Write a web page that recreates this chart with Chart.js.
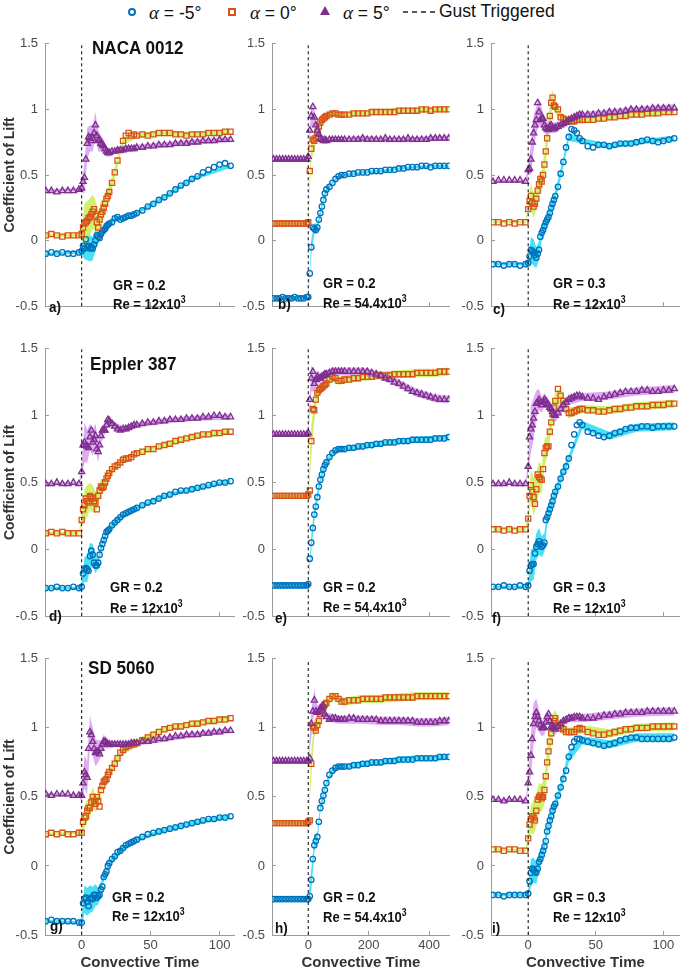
<!DOCTYPE html>
<html>
<head>
<meta charset="utf-8">
<script src="https://cdn.jsdelivr.net/npm/chart.js@4.4.1/dist/chart.umd.min.js"></script>
<style>
    body { margin: 0; width: 685px; height: 975px; position: relative; background: #fff; overflow: hidden;
           font-family: "Liberation Sans", Arial, sans-serif; }
    .panel { position: absolute; }
    .note { position: absolute; font-weight: bold; color: #111; white-space: nowrap; line-height: 1;
            transform-origin: left center; }
    .airfoil { font-size: 18px; transform: scaleX(0.95); }
    .cond { font-size: 15px; transform: scaleX(0.87); }
    .tag { font-size: 15px; transform: scaleX(0.9); }
    .cond sup { font-size: 10px; vertical-align: 6px; line-height: 0; }
    .legend-text { position: absolute; top: 3px; font-size: 17.5px; color: #111; white-space: nowrap; line-height: 1; }
    .legend-text i { font-family: "Liberation Serif", "Times New Roman", serif; font-size: 19px; }
    .sym { position: absolute; box-sizing: border-box; }
</style>
</head>
<body>

<!-- shared legend -->
<span class="sym" style="left:128px;top:8px;width:8px;height:8px;border:2px solid #0072BD;border-radius:50%;"></span>
<span class="legend-text" style="left:149px;"><i>α</i> = -5°</span>
<span class="sym" style="left:228px;top:8px;width:8px;height:8px;border:2.5px solid #D95319;background:#fff;"></span>
<span class="legend-text" style="left:250px;"><i>α</i> = 0°</span>
<span class="sym" style="left:320px;top:6px;width:0;height:0;border-left:5px solid transparent;border-right:5px solid transparent;border-bottom:9px solid #7E2F8E;"></span>
<span class="legend-text" style="left:343px;"><i>α</i> = 5°</span>
<svg class="sym" style="left:403px;top:10px;" width="34" height="4"><line x1="0" y1="2" x2="34" y2="2" stroke="#222" stroke-width="1.3" stroke-dasharray="5,4"/></svg>
<span class="legend-text" style="left:439px;">Gust Triggered</span>

<div id="charts"></div>

<!-- panel annotations -->
<div class="note airfoil" style="left:92px;top:39px;">NACA 0012</div>
<div class="note airfoil" style="left:90px;top:355px;">Eppler 387</div>
<div class="note airfoil" style="left:88px;top:659px;">SD 5060</div>

<div class="note cond" style="left:113px;top:277px;">GR = 0.2</div>
<div class="note cond" style="left:113px;top:296px;">Re = 12x10<sup>3</sup></div>
<div class="note cond" style="left:323px;top:275px;">GR = 0.2</div>
<div class="note cond" style="left:323px;top:295px;">Re = 54.4x10<sup>3</sup></div>
<div class="note cond" style="left:553px;top:275px;">GR = 0.3</div>
<div class="note cond" style="left:553px;top:296px;">Re = 12x10<sup>3</sup></div>

<div class="note cond" style="left:110px;top:579px;">GR = 0.2</div>
<div class="note cond" style="left:110px;top:600px;">Re = 12x10<sup>3</sup></div>
<div class="note cond" style="left:323px;top:579px;">GR = 0.2</div>
<div class="note cond" style="left:323px;top:599px;">Re = 54.4x10<sup>3</sup></div>
<div class="note cond" style="left:553px;top:579px;">GR = 0.3</div>
<div class="note cond" style="left:553px;top:600px;">Re = 12x10<sup>3</sup></div>

<div class="note cond" style="left:112px;top:889px;">GR = 0.2</div>
<div class="note cond" style="left:112px;top:908px;">Re = 12x10<sup>3</sup></div>
<div class="note cond" style="left:323px;top:889px;">GR = 0.2</div>
<div class="note cond" style="left:323px;top:909px;">Re = 54.4x10<sup>3</sup></div>
<div class="note cond" style="left:553px;top:889px;">GR = 0.3</div>
<div class="note cond" style="left:553px;top:909px;">Re = 12x10<sup>3</sup></div>

<div class="note tag" style="left:49px;top:299px;">a)</div>
<div class="note tag" style="left:278px;top:296px;">b)</div>
<div class="note tag" style="left:493px;top:301px;">c)</div>
<div class="note tag" style="left:49px;top:608px;">d)</div>
<div class="note tag" style="left:275px;top:610px;">e)</div>
<div class="note tag" style="left:492px;top:610px;">f)</div>
<div class="note tag" style="left:50px;top:918px;">g)</div>
<div class="note tag" style="left:275px;top:920px;">h)</div>
<div class="note tag" style="left:492px;top:920px;">i)</div>

<script>
// ---- sample times (convective time) ----
const timeShort = [-26,-22,-18,-14,-10,-6,-2, 0,
    1,2,3,4,5,6,7,8,9,10, 11,12,13,14,15,16,17,18,19,20,
    22,24,26,28,30,32,34,36,38,40,
    44,48,52,56,60,64,68,72,76,80,84,88,92,96,100,104,108];
const timeLong = [-115,-105,-95,-85,-75,-65,-55,-45,-35,-25,-15,-5, 0,
    5,10,15,20,25,30,35,40,45,50,55,60,
    70,80,90,100,110,120,
    135,150,165,180,195,210,225,240,255,270,285,300,315,330,345,360,375,390,405,420,435,450,465];
// times where the error band is sampled
const bandTimeShort = [-26,-2,0,2,4,6,8,10,12,14,16,18,20,24,30,40,60,80,108];
const bandTimeLong = [-115,-5,0,10,20,30,40,50,60,80,100,120,180,240,300,360,420,465];

const gustTime = 0;
const yTicks = [-0.5, 0, 0.5, 1, 1.5];
const yTickLabels = ['-0.5', '0', '0.5', '1', '1.5'];
const xTicksShort = [0, 50, 100];
const xTicksLong = [0, 200, 400];

// ---- a) NACA 0012, GR 0.2, Re 12e3 ----
const aNeg5 = [-0.10,-0.09,-0.10,-0.09,-0.10,-0.10,-0.09, -0.08,
    -0.04,-0.06,0.01,-0.05,-0.04,-0.06,-0.05,-0.06,-0.03,0.00,
    0.04,0.03,0.02,0.05,0.07,0.08,0.09,0.11,0.12,0.13,
    0.14,0.17,0.18,0.16,0.17,0.18,0.19,0.19,0.20,0.21,
    0.23,0.26,0.28,0.31,0.33,0.36,0.39,0.42,0.44,0.47,0.49,0.52,0.54,0.56,0.58,0.59,0.57];
const aZero = [0.04,0.05,0.04,0.03,0.04,0.04,0.04, 0.05,
    0.10,0.13,0.14,0.15,0.17,0.18,0.20,0.22,0.24,0.19,
    0.14,0.10,0.16,0.20,0.22,0.25,0.28,0.32,0.34,0.37,
    0.44,0.52,0.61,0.69,0.76,0.80,0.82,0.80,0.81,0.80,
    0.81,0.80,0.81,0.82,0.82,0.82,0.81,0.81,0.80,0.81,0.81,0.81,0.82,0.82,0.82,0.83,0.83];
const aPos5 = [0.38,0.38,0.37,0.38,0.38,0.38,0.39, 0.40,
    0.45,0.48,0.62,0.74,0.79,0.78,0.76,0.78,0.82,0.88,
    0.80,0.76,0.77,0.74,0.73,0.72,0.70,0.68,0.67,0.67,
    0.68,0.68,0.69,0.69,0.69,0.70,0.70,0.70,0.70,0.71,
    0.71,0.72,0.72,0.73,0.73,0.73,0.74,0.74,0.74,0.75,0.75,0.76,0.76,0.76,0.77,0.77,0.77];
const aNeg5Err = [0.01,0.01,0.02,0.08,0.10,0.10,0.09,0.08,0.05,0.04,0.03,0.02,0.02,0.02,0.02,0.015,0.015,0.015,0.015];
const aZeroErr = [0.01,0.01,0.03,0.15,0.15,0.14,0.13,0.12,0.12,0.10,0.08,0.06,0.05,0.04,0.03,0.02,0.02,0.02,0.02];
const aPos5Err = [0.01,0.01,0.03,0.12,0.12,0.10,0.10,0.10,0.08,0.06,0.05,0.04,0.03,0.02,0.02,0.02,0.02,0.02,0.02];

// ---- b) NACA 0012, GR 0.2, Re 54.4e3 ----
const bNeg5 = [-0.44,-0.44,-0.44,-0.43,-0.44,-0.44,-0.44,-0.43,-0.44,-0.44,-0.44,-0.43, -0.43,
    -0.25,-0.05,0.10,0.09,0.08,0.10,0.16,0.21,0.26,0.31,0.36,0.39,
    0.41,0.44,0.47,0.49,0.50,0.50,
    0.51,0.51,0.52,0.52,0.52,0.53,0.53,0.53,0.54,0.54,0.54,0.55,0.55,0.56,0.56,0.56,0.57,0.57,0.56,0.57,0.57,0.57,0.57];
const bZero = [0.13,0.13,0.13,0.13,0.13,0.13,0.13,0.13,0.13,0.13,0.13,0.13, 0.14,
    0.53,0.70,0.77,0.76,0.78,0.83,0.87,0.90,0.92,0.93,0.94,0.95,
    0.96,0.97,0.97,0.96,0.96,0.96,
    0.96,0.97,0.97,0.97,0.97,0.98,0.98,0.98,0.98,0.98,0.98,0.99,0.99,0.99,0.99,0.99,1.00,1.00,0.99,1.00,1.00,1.00,1.00];
const bPos5 = [0.62,0.62,0.62,0.62,0.62,0.62,0.62,0.62,0.62,0.62,0.62,0.62, 0.64,
    0.84,0.95,1.02,0.94,0.88,0.84,0.81,0.78,0.77,0.76,0.77,0.76,
    0.77,0.77,0.77,0.77,0.77,0.77,
    0.77,0.77,0.77,0.78,0.77,0.77,0.77,0.77,0.78,0.77,0.77,0.77,0.77,0.78,0.77,0.77,0.77,0.77,0.78,0.78,0.78,0.78,0.78];
const bNeg5Err = [0.01,0.01,0.01,0.06,0.04,0.03,0.03,0.02,0.02,0.01,0.01,0.01,0.01,0.01,0.01,0.01,0.01,0.01];
const bZeroErr = [0.01,0.01,0.02,0.10,0.06,0.04,0.03,0.03,0.02,0.02,0.02,0.02,0.02,0.02,0.02,0.02,0.02,0.02];
const bPos5Err = [0.01,0.01,0.02,0.08,0.06,0.04,0.03,0.02,0.02,0.02,0.02,0.02,0.02,0.02,0.02,0.02,0.02,0.02];

// ---- c) NACA 0012, GR 0.3, Re 12e3 ----
const cNeg5 = [-0.18,-0.18,-0.19,-0.18,-0.18,-0.19,-0.18, -0.17,
    -0.12,-0.07,-0.08,-0.09,-0.11,-0.13,-0.10,-0.07,0.03,0.06,
    0.08,0.11,0.14,0.16,0.18,0.21,0.25,0.28,0.31,0.34,
    0.41,0.51,0.60,0.71,0.79,0.85,0.84,0.82,0.78,0.76,
    0.72,0.71,0.73,0.73,0.72,0.73,0.74,0.74,0.74,0.75,0.76,0.77,0.76,0.75,0.76,0.77,0.78];
const cZero = [0.14,0.14,0.13,0.14,0.13,0.14,0.14, 0.24,
    0.30,0.34,0.29,0.26,0.28,0.32,0.38,0.43,0.47,0.45,
    0.50,0.58,0.68,0.78,0.85,0.95,1.05,1.09,1.03,1.02,
    1.00,0.94,0.93,0.92,0.91,0.91,0.91,0.92,0.92,0.92,
    0.92,0.92,0.93,0.93,0.94,0.94,0.95,0.95,0.96,0.96,0.96,0.97,0.97,0.97,0.98,0.98,0.98];
const cPos5 = [0.45,0.46,0.46,0.46,0.46,0.46,0.45, 0.54,
    0.55,0.62,0.75,0.82,0.88,0.92,1.05,0.98,0.92,0.93,
    0.93,0.88,0.86,0.85,0.85,0.87,0.88,0.86,0.85,0.86,
    0.87,0.88,0.89,0.90,0.92,0.93,0.94,0.95,0.96,0.96,
    0.96,0.96,0.97,0.97,0.98,0.98,0.98,0.99,1.00,1.00,1.00,1.00,1.01,1.01,1.01,1.01,1.01];
const cNeg5Err = [0.01,0.01,0.03,0.10,0.10,0.08,0.07,0.06,0.05,0.04,0.04,0.04,0.04,0.04,0.03,0.02,0.02,0.02,0.02];
const cZeroErr = [0.01,0.01,0.03,0.10,0.09,0.08,0.08,0.08,0.10,0.10,0.08,0.06,0.05,0.04,0.03,0.03,0.02,0.02,0.02];
const cPos5Err = [0.01,0.01,0.04,0.12,0.13,0.10,0.10,0.08,0.06,0.05,0.05,0.04,0.04,0.03,0.03,0.02,0.02,0.02,0.03];

// ---- d) Eppler 387, GR 0.2, Re 12e3 ----
const dNeg5 = [-0.29,-0.29,-0.28,-0.29,-0.29,-0.28,-0.29, -0.28,
    -0.18,-0.15,-0.14,-0.15,-0.16,-0.05,-0.01,-0.04,-0.10,-0.12,
    -0.12,-0.10,-0.04,0.01,0.04,0.07,0.10,0.13,0.14,0.15,
    0.18,0.20,0.22,0.24,0.26,0.27,0.28,0.29,0.30,0.31,
    0.33,0.35,0.36,0.38,0.40,0.41,0.43,0.44,0.44,0.45,0.46,0.47,0.48,0.49,0.50,0.50,0.51];
const dZero = [0.12,0.13,0.12,0.13,0.12,0.12,0.12, 0.22,
    0.30,0.33,0.38,0.36,0.35,0.40,0.39,0.38,0.36,0.35,
    0.30,0.40,0.44,0.47,0.46,0.47,0.50,0.53,0.55,0.57,
    0.60,0.62,0.63,0.65,0.67,0.68,0.68,0.69,0.71,0.72,
    0.73,0.75,0.75,0.77,0.78,0.79,0.81,0.82,0.83,0.84,0.85,0.86,0.86,0.87,0.87,0.88,0.88];
const dPos5 = [0.49,0.49,0.50,0.49,0.49,0.50,0.49, 0.58,
    0.78,0.80,0.78,0.77,0.76,0.84,0.89,0.80,0.82,0.85,
    0.75,0.73,0.78,0.85,0.89,0.89,0.89,0.93,0.97,0.96,
    0.94,0.92,0.90,0.89,0.90,0.90,0.91,0.92,0.93,0.93,
    0.94,0.95,0.95,0.96,0.96,0.97,0.97,0.97,0.98,0.98,0.98,0.99,0.99,1.00,1.00,0.99,0.99];
const dNeg5Err = [0.01,0.01,0.02,0.09,0.10,0.10,0.08,0.06,0.04,0.03,0.02,0.02,0.02,0.02,0.02,0.015,0.015,0.015,0.015];
const dZeroErr = [0.01,0.01,0.03,0.12,0.12,0.10,0.10,0.08,0.07,0.06,0.05,0.04,0.03,0.03,0.02,0.02,0.02,0.02,0.02];
const dPos5Err = [0.01,0.01,0.04,0.15,0.12,0.10,0.10,0.09,0.08,0.06,0.05,0.04,0.04,0.03,0.02,0.02,0.02,0.02,0.02];

// ---- e) Eppler 387, GR 0.2, Re 54.4e3 ----
const eNeg5 = [-0.27,-0.27,-0.27,-0.27,-0.27,-0.27,-0.27,-0.27,-0.27,-0.27,-0.27,-0.27, -0.26,
    -0.07,0.05,0.16,0.26,0.32,0.39,0.47,0.52,0.56,0.60,0.63,0.65,
    0.69,0.72,0.74,0.75,0.75,0.75,
    0.76,0.76,0.77,0.77,0.78,0.78,0.79,0.79,0.80,0.80,0.80,0.81,0.81,0.81,0.82,0.82,0.82,0.82,0.82,0.83,0.83,0.83,0.84];
const eZero = [0.40,0.40,0.40,0.40,0.40,0.40,0.40,0.40,0.40,0.40,0.40,0.40, 0.41,
    0.44,0.81,1.05,1.04,1.12,1.17,1.19,1.20,1.21,1.22,1.23,1.24,
    1.27,1.29,1.28,1.26,1.26,1.27,
    1.27,1.28,1.28,1.29,1.29,1.29,1.30,1.30,1.30,1.30,1.31,1.31,1.31,1.31,1.31,1.32,1.32,1.32,1.32,1.32,1.33,1.33,1.33];
const ePos5 = [0.86,0.86,0.86,0.86,0.86,0.86,0.86,0.86,0.86,0.86,0.86,0.86, 0.87,
    1.12,1.28,1.33,1.24,1.27,1.29,1.28,1.28,1.29,1.30,1.31,1.31,
    1.32,1.33,1.33,1.33,1.33,1.33,
    1.33,1.33,1.33,1.33,1.33,1.32,1.31,1.30,1.28,1.27,1.25,1.24,1.22,1.20,1.18,1.17,1.16,1.15,1.14,1.13,1.12,1.12,1.12];
const eNeg5Err = [0.01,0.01,0.01,0.06,0.05,0.04,0.03,0.03,0.02,0.02,0.02,0.02,0.02,0.02,0.02,0.02,0.02,0.02];
const eZeroErr = [0.01,0.01,0.02,0.12,0.08,0.05,0.04,0.03,0.03,0.03,0.03,0.03,0.03,0.03,0.03,0.03,0.03,0.03];
const ePos5Err = [0.01,0.01,0.02,0.10,0.06,0.05,0.04,0.03,0.03,0.03,0.03,0.03,0.03,0.03,0.03,0.03,0.03,0.03];

// ---- f) Eppler 387, GR 0.3, Re 12e3 ----
const fNeg5 = [-0.28,-0.28,-0.27,-0.28,-0.28,-0.27,-0.28, -0.27,
    -0.16,-0.12,-0.11,-0.11,-0.03,0.02,0.04,0.06,0.04,0.02,
    0.03,0.05,0.22,0.24,0.27,0.30,0.33,0.36,0.40,0.43,
    0.47,0.53,0.58,0.62,0.68,0.78,0.86,0.93,0.95,0.93,
    0.88,0.87,0.85,0.84,0.85,0.87,0.88,0.90,0.91,0.91,0.92,0.92,0.91,0.92,0.92,0.92,0.92];
const fZero = [0.15,0.15,0.14,0.15,0.14,0.15,0.15, 0.23,
    0.40,0.48,0.43,0.39,0.34,0.45,0.56,0.54,0.53,0.52,
    0.60,0.72,0.76,0.77,0.77,0.88,0.95,1.01,1.06,1.11,
    1.20,1.15,1.11,1.05,1.02,1.02,1.03,1.04,1.05,1.05,
    1.04,1.04,1.03,1.03,1.04,1.05,1.05,1.06,1.06,1.07,1.07,1.07,1.08,1.08,1.08,1.09,1.09];
const fPos5 = [0.49,0.49,0.49,0.50,0.49,0.49,0.49, 0.62,
    0.84,0.90,0.93,0.98,1.03,1.09,1.10,1.12,1.10,1.08,
    1.10,1.12,1.11,1.09,1.08,1.06,1.05,1.03,1.01,1.00,
    1.02,1.05,1.08,1.10,1.12,1.13,1.14,1.15,1.15,1.14,
    1.13,1.13,1.12,1.14,1.15,1.16,1.17,1.18,1.18,1.18,1.19,1.19,1.18,1.18,1.19,1.19,1.20];
const fNeg5Err = [0.01,0.01,0.02,0.12,0.12,0.10,0.10,0.08,0.07,0.06,0.05,0.04,0.04,0.04,0.03,0.03,0.03,0.03,0.03];
const fZeroErr = [0.01,0.01,0.03,0.12,0.14,0.12,0.12,0.10,0.10,0.08,0.07,0.07,0.07,0.05,0.04,0.03,0.03,0.03,0.03];
const fPos5Err = [0.01,0.01,0.04,0.18,0.15,0.10,0.08,0.06,0.05,0.05,0.05,0.05,0.05,0.04,0.04,0.03,0.03,0.03,0.03];

// ---- g) SD 5060, GR 0.2, Re 12e3 ----
const gNeg5 = [-0.40,-0.39,-0.40,-0.40,-0.40,-0.40,-0.41, -0.41,
    -0.27,-0.24,-0.23,-0.26,-0.29,-0.24,-0.23,-0.24,-0.21,-0.21,
    -0.23,-0.22,-0.21,-0.17,-0.15,-0.08,-0.06,-0.04,0.00,0.02,
    0.05,0.07,0.10,0.11,0.13,0.15,0.16,0.17,0.18,0.19,
    0.21,0.23,0.24,0.25,0.26,0.27,0.28,0.29,0.30,0.31,0.32,0.33,0.34,0.34,0.35,0.35,0.36];
const gZero = [0.23,0.24,0.23,0.24,0.23,0.23,0.24, 0.24,
    0.32,0.35,0.36,0.40,0.42,0.42,0.46,0.50,0.47,0.45,
    0.50,0.47,0.43,0.55,0.58,0.61,0.62,0.63,0.66,0.68,
    0.71,0.74,0.78,0.82,0.84,0.86,0.87,0.88,0.88,0.89,
    0.91,0.93,0.95,0.97,0.99,1.00,1.01,1.01,1.02,1.03,1.03,1.04,1.05,1.05,1.06,1.06,1.07];
const gPos5 = [0.52,0.51,0.52,0.52,0.52,0.51,0.51, 0.51,
    0.60,0.68,0.66,0.64,0.85,0.97,0.95,0.90,0.85,0.82,
    0.83,0.83,0.81,0.85,0.88,0.90,0.90,0.89,0.88,0.88,
    0.88,0.88,0.88,0.88,0.88,0.88,0.88,0.89,0.89,0.89,
    0.90,0.90,0.91,0.92,0.92,0.93,0.94,0.94,0.95,0.95,0.95,0.96,0.96,0.97,0.97,0.98,0.98];
const gNeg5Err = [0.01,0.01,0.04,0.10,0.10,0.10,0.09,0.08,0.06,0.05,0.03,0.02,0.02,0.02,0.02,0.015,0.015,0.015,0.015];
const gZeroErr = [0.01,0.01,0.03,0.08,0.08,0.08,0.07,0.06,0.05,0.04,0.03,0.03,0.03,0.03,0.03,0.03,0.02,0.02,0.02];
const gPos5Err = [0.01,0.01,0.04,0.12,0.12,0.12,0.10,0.10,0.08,0.06,0.05,0.04,0.03,0.02,0.02,0.02,0.02,0.02,0.02];

// ---- h) SD 5060, GR 0.2, Re 54.4e3 ----
const hNeg5 = [-0.24,-0.24,-0.24,-0.24,-0.24,-0.24,-0.24,-0.24,-0.24,-0.24,-0.24,-0.24, -0.24,
    -0.22,-0.10,0.05,0.15,0.18,0.21,0.32,0.42,0.47,0.51,0.55,0.60,
    0.66,0.69,0.71,0.72,0.72,0.72,
    0.72,0.73,0.73,0.74,0.74,0.75,0.75,0.75,0.76,0.76,0.76,0.77,0.77,0.77,0.77,0.78,0.78,0.78,0.78,0.78,0.79,0.79,0.79];
const hZero = [0.31,0.31,0.31,0.31,0.31,0.31,0.31,0.31,0.31,0.31,0.31,0.31, 0.32,
    0.33,0.74,1.01,1.00,0.98,1.02,1.05,1.10,1.12,1.15,1.17,1.18,
    1.21,1.23,1.23,1.21,1.19,1.19,
    1.20,1.20,1.20,1.21,1.21,1.21,1.21,1.21,1.22,1.22,1.22,1.22,1.22,1.22,1.22,1.23,1.23,1.23,1.23,1.23,1.23,1.23,1.23];
const hPos5 = [0.76,0.76,0.76,0.76,0.76,0.76,0.76,0.76,0.76,0.76,0.76,0.76, 0.76,
    0.78,1.03,1.12,1.20,1.12,1.11,1.12,1.14,1.15,1.16,1.10,1.08,
    1.06,1.07,1.07,1.06,1.06,1.06,
    1.07,1.07,1.06,1.06,1.06,1.06,1.06,1.05,1.05,1.05,1.05,1.05,1.05,1.05,1.05,1.04,1.04,1.04,1.04,1.04,1.05,1.05,1.05];
const hNeg5Err = [0.01,0.01,0.01,0.08,0.05,0.04,0.03,0.03,0.02,0.02,0.02,0.02,0.02,0.02,0.02,0.02,0.02,0.02];
const hZeroErr = [0.01,0.01,0.01,0.10,0.06,0.05,0.05,0.04,0.03,0.03,0.03,0.03,0.03,0.03,0.03,0.03,0.03,0.03];
const hPos5Err = [0.01,0.01,0.02,0.10,0.08,0.05,0.04,0.04,0.03,0.03,0.03,0.03,0.03,0.03,0.03,0.03,0.03,0.03];

// ---- i) SD 5060, GR 0.3, Re 12e3 ----
const iNeg5 = [-0.21,-0.21,-0.22,-0.21,-0.21,-0.21,-0.21, -0.20,
    -0.11,-0.05,-0.02,-0.03,-0.04,-0.05,-0.02,0.03,0.05,0.08,
    0.11,0.14,0.18,0.25,0.29,0.33,0.36,0.40,0.43,0.45,
    0.51,0.57,0.63,0.69,0.79,0.86,0.90,0.92,0.92,0.91,
    0.90,0.89,0.88,0.87,0.88,0.89,0.91,0.92,0.93,0.93,0.92,0.92,0.92,0.92,0.92,0.92,0.93];
const iZero = [0.12,0.12,0.11,0.12,0.12,0.11,0.11, 0.20,
    0.30,0.34,0.36,0.35,0.33,0.40,0.48,0.50,0.51,0.49,
    0.50,0.55,0.65,0.75,0.83,0.90,0.96,1.02,1.05,1.07,
    1.02,1.00,0.99,0.97,0.97,0.97,0.97,0.99,1.00,0.99,
    0.97,0.96,0.95,0.95,0.96,0.97,0.98,0.99,0.99,1.00,1.00,1.00,1.01,1.01,1.01,1.01,1.01];
const iPos5 = [0.48,0.48,0.47,0.48,0.48,0.48,0.47, 0.60,
    0.68,0.80,0.92,1.03,1.08,1.11,1.08,1.05,1.02,1.00,
    1.00,1.00,1.04,1.08,1.10,1.05,1.01,1.00,1.00,0.99,
    1.01,1.03,1.05,1.06,1.07,1.07,1.08,1.08,1.08,1.07,
    1.07,1.07,1.08,1.09,1.09,1.10,1.10,1.11,1.11,1.11,1.11,1.12,1.12,1.12,1.12,1.12,1.12];
const iNeg5Err = [0.01,0.01,0.03,0.10,0.09,0.08,0.06,0.05,0.04,0.04,0.04,0.04,0.04,0.04,0.04,0.03,0.03,0.03,0.03];
const iZeroErr = [0.01,0.01,0.05,0.10,0.12,0.12,0.10,0.10,0.10,0.10,0.10,0.08,0.06,0.04,0.03,0.03,0.03,0.03,0.03];
const iPos5Err = [0.01,0.01,0.04,0.15,0.15,0.10,0.08,0.06,0.05,0.04,0.04,0.04,0.04,0.03,0.03,0.03,0.03,0.03,0.03];

// ---- layout (pixel boxes of each column / row of the grid) ----
const columnBoxes = [
    { left: 0,   width: 240, axisWidth: 45, padRight: 5, xMin: -26.6, xMax: 111 },
    { left: 240, width: 215, axisWidth: 32, padRight: 4, xMin: -120,  xMax: 468 },
    { left: 458, width: 227, axisWidth: 33, padRight: 5, xMin: -27.5, xMax: 112 }
];
const rowBoxes = [
    { top: 25,  height: 300, padTop: 9,  axisHeight: 7 },
    { top: 330, height: 305, padTop: 13, axisHeight: 8 },
    { top: 640, height: 335, padTop: 13, axisHeight: 40 }
];

const seriesStyles = [
    { marker: 'circle',   color: '#0072BD', fill: 'rgba(0,0,0,0)',        radius: 2.7, band: 'rgba(40,220,245,0.85)' },
    { marker: 'rect',     color: '#D95319', fill: 'rgba(0,0,0,0)',        radius: 3.6, band: 'rgba(200,238,85,0.85)' },
    { marker: 'triangle', color: '#7E2F8E', fill: 'rgba(126,47,142,0.2)', radius: 3.6, band: 'rgba(215,150,240,0.8)' }
];

const panels = [
    { col: 0, row: 0, cl: [aNeg5, aZero, aPos5], err: [aNeg5Err, aZeroErr, aPos5Err] },
    { col: 1, row: 0, cl: [bNeg5, bZero, bPos5], err: [bNeg5Err, bZeroErr, bPos5Err] },
    { col: 2, row: 0, cl: [cNeg5, cZero, cPos5], err: [cNeg5Err, cZeroErr, cPos5Err] },
    { col: 0, row: 1, cl: [dNeg5, dZero, dPos5], err: [dNeg5Err, dZeroErr, dPos5Err] },
    { col: 1, row: 1, cl: [eNeg5, eZero, ePos5], err: [eNeg5Err, eZeroErr, ePos5Err] },
    { col: 2, row: 1, cl: [fNeg5, fZero, fPos5], err: [fNeg5Err, fZeroErr, fPos5Err] },
    { col: 0, row: 2, cl: [gNeg5, gZero, gPos5], err: [gNeg5Err, gZeroErr, gPos5Err] },
    { col: 1, row: 2, cl: [hNeg5, hZero, hPos5], err: [hNeg5Err, hZeroErr, hPos5Err] },
    { col: 2, row: 2, cl: [iNeg5, iZero, iPos5], err: [iNeg5Err, iZeroErr, iPos5Err] }
];

Chart.defaults.font.family = '"Liberation Sans", Arial, sans-serif';
Chart.defaults.color = '#4a4a4a';

function markerPoints(times, cl) {
    return times.map((t, i) => ({ x: t, y: cl[i] }));
}

function bandEdge(times, cl, bandTimes, err, sign) {
    return bandTimes.map((t, k) => {
        const i = times.indexOf(t);
        return { x: t, y: cl[i] + sign * err[k] };
    });
}

function buildPanel(panel) {
    const colBox = columnBoxes[panel.col];
    const rowBox = rowBoxes[panel.row];
    const isLong = panel.col === 1;
    const times = isLong ? timeLong : timeShort;
    const bandTimes = isLong ? bandTimeLong : bandTimeShort;
    const xTicks = isLong ? xTicksLong : xTicksShort;
    const bottomRow = panel.row === 2;

    const wrap = document.createElement('div');
    wrap.className = 'panel';
    wrap.style.left = colBox.left + 'px';
    wrap.style.top = rowBox.top + 'px';
    const canvas = document.createElement('canvas');
    canvas.width = colBox.width;
    canvas.height = rowBox.height;
    wrap.appendChild(canvas);
    document.getElementById('charts').appendChild(wrap);

    const datasets = [{
        label: 'Gust Triggered',
        data: [{ x: gustTime, y: yTicks[0] }, { x: gustTime, y: yTicks[yTicks.length - 1] }],
        borderColor: '#1a1a1a', borderWidth: 1.1, borderDash: [3, 3],
        pointRadius: 0, fill: false, order: 0
    }];

    // markers: purple on top, then orange, then blue
    [2, 1, 0].forEach(s => {
        const st = seriesStyles[s];
        datasets.push({
            data: markerPoints(times, panel.cl[s]),
            showLine: false,
            pointStyle: st.marker,
            pointRadius: st.radius,
            pointBorderColor: st.color,
            pointBackgroundColor: st.fill,
            pointBorderWidth: 1.3,
            order: 0
        });
    });

    // error bands under the markers
    [2, 1, 0].forEach(s => {
        const st = seriesStyles[s];
        datasets.push({
            data: bandEdge(times, panel.cl[s], bandTimes, panel.err[s], -1),
            borderColor: 'transparent', borderWidth: 0, pointRadius: 0, fill: false, order: 1
        });
        datasets.push({
            data: bandEdge(times, panel.cl[s], bandTimes, panel.err[s], 1),
            borderColor: 'transparent', borderWidth: 0, pointRadius: 0,
            fill: '-1', backgroundColor: st.band, order: 1
        });
    });

    new Chart(canvas, {
        type: 'line',
        data: { datasets },
        options: {
            responsive: false,
            animation: false,
            events: [],
            layout: { padding: { top: rowBox.padTop, right: colBox.padRight, left: 0, bottom: 0 } },
            plugins: { legend: { display: false }, tooltip: { enabled: false } },
            elements: { line: { tension: 0 } },
            scales: {
                x: {
                    type: 'linear',
                    min: colBox.xMin, max: colBox.xMax,
                    afterBuildTicks: scale => { scale.ticks = xTicks.map(v => ({ value: v })); },
                    afterFit: scale => { scale.height = rowBox.axisHeight; },
                    border: { display: true, color: '#9a9a9a', width: 1 },
                    grid: { drawOnChartArea: false, drawTicks: true, tickLength: -4, color: '#9a9a9a' },
                    ticks: {
                        display: bottomRow, padding: 7, maxRotation: 0,
                        font: { size: 13 }, color: '#4a4a4a',
                        callback: v => String(v)
                    },
                    title: {
                        display: bottomRow, text: 'Convective Time',
                        font: { size: 15, weight: 'bold' }, color: '#333',
                        padding: { top: 0, bottom: 3 }
                    }
                },
                y: {
                    min: yTicks[0], max: yTicks[yTicks.length - 1],
                    afterBuildTicks: scale => { scale.ticks = yTicks.map(v => ({ value: v })); },
                    afterFit: scale => { scale.width = colBox.axisWidth; },
                    border: { display: true, color: '#9a9a9a', width: 1 },
                    grid: { drawOnChartArea: false, drawTicks: true, tickLength: -4, color: '#9a9a9a' },
                    ticks: {
                        padding: 11, font: { size: 13 }, color: '#4a4a4a',
                        callback: (v, i) => yTickLabels[i]
                    },
                    title: {
                        display: panel.col === 0, text: 'Coefficient of Lift',
                        font: { size: 14, weight: 'bold' }, color: '#333',
                        padding: { top: 2, bottom: 0 }
                    }
                }
            }
        }
    });
}

panels.forEach(buildPanel);
</script>
</body>
</html>
